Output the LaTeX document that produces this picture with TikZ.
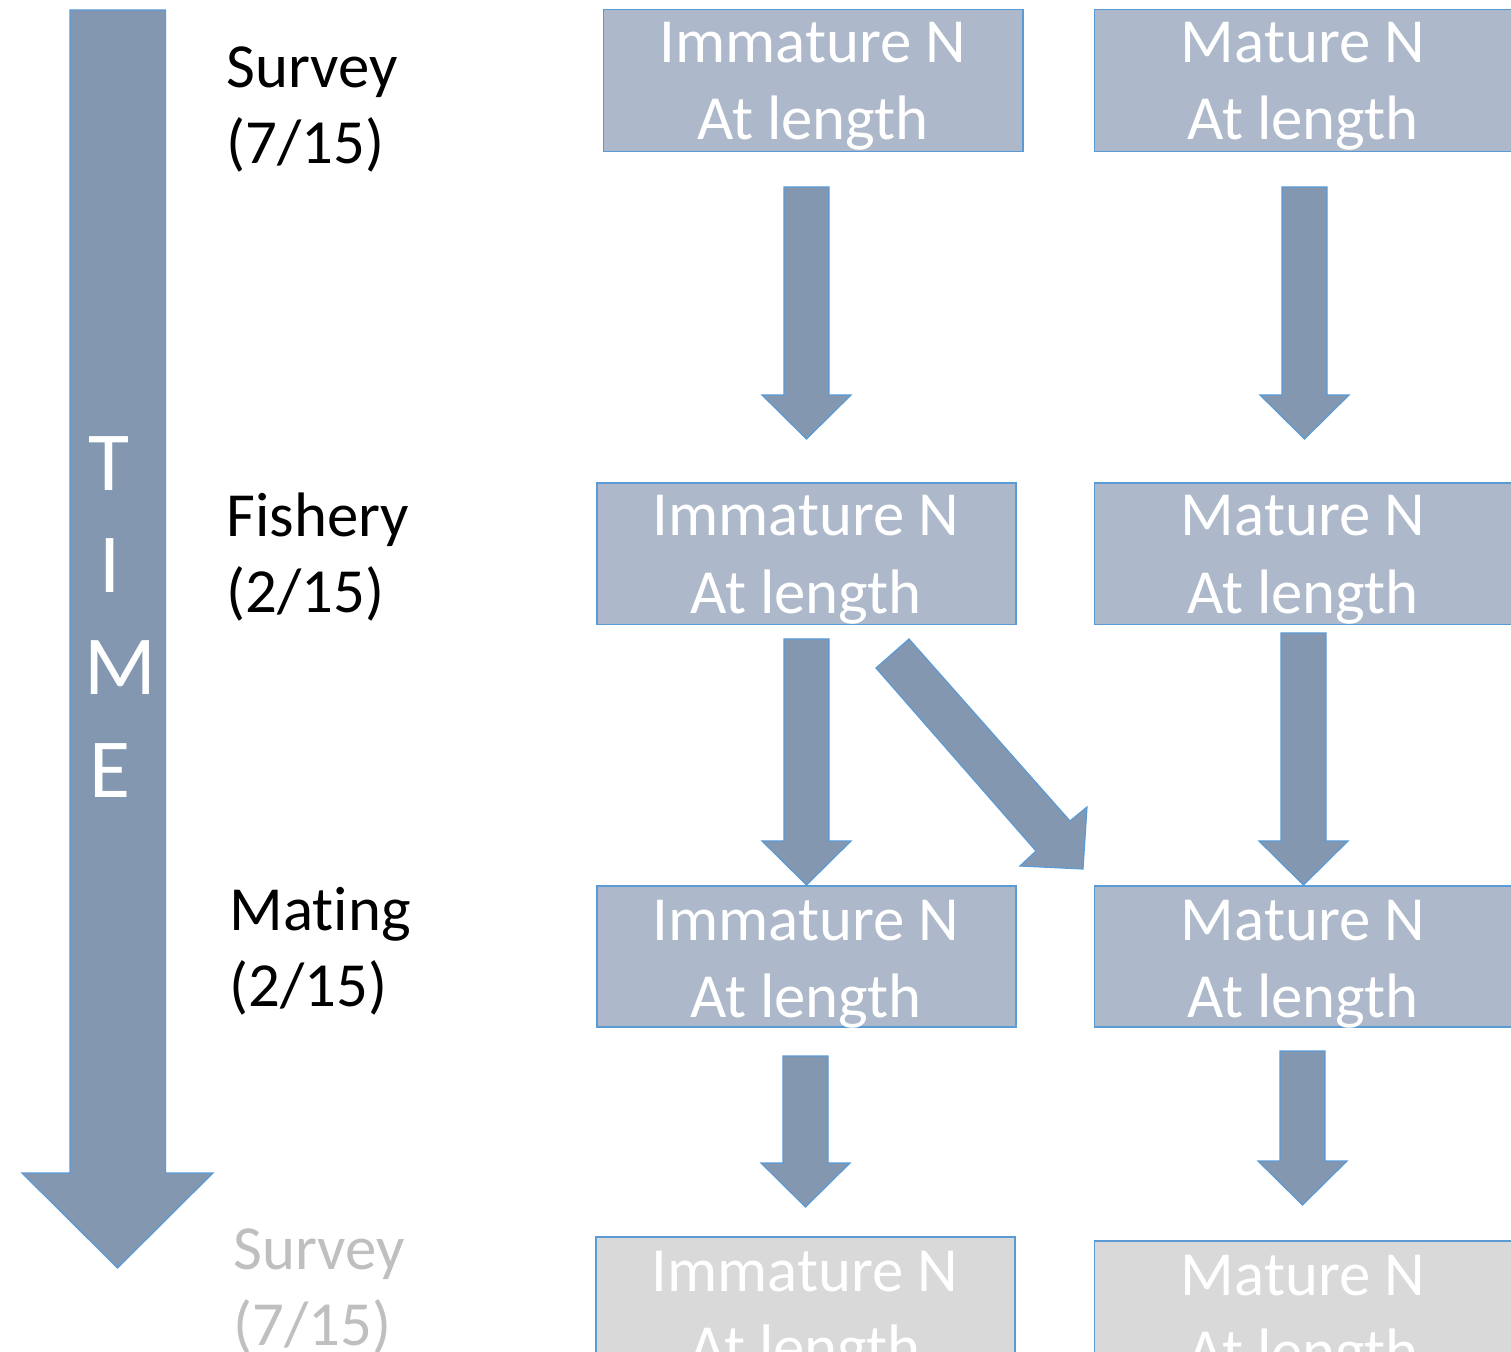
\documentclass[tikz,border=0pt]{standalone}
\usepackage{fontspec}
\setmainfont{Carlito}[Ligatures=NoCommon]
\definecolor{boxfill}{HTML}{ADB9CA}
\definecolor{boxline}{HTML}{5B9BD5}
\definecolor{arrfill}{HTML}{8497B0}
\definecolor{grayfill}{HTML}{D9D9D9}
\definecolor{graytext}{HTML}{BFBFBF}
\tikzset{
  popbox/.style={draw=boxline, fill=boxfill, line width=0.8pt},
  futbox/.style={draw=boxline, fill=grayfill, line width=0.8pt},
  blk/.style={draw=boxline, fill=arrfill, line width=0.6pt, line join=miter},
  wtxt/.style={text=white, inner sep=0pt, anchor=base, font=\fontsize{31.4}{37}\selectfont},
  lbl/.style={text=black, inner sep=0pt, anchor=base west, font=\fontsize{31.4}{37}\selectfont},
  glbl/.style={lbl, text=graytext},
  timel/.style={text=white, inner sep=0pt, anchor=base, font=\fontsize{42}{50}\selectfont},
}
% vertical block arrow: x-center, y-top, y-headbase, y-tip
\newcommand\vblk[4]{%
  \draw[blk] ({#1-22.5},#2) -- ({#1+22.5},#2) -- ({#1+22.5},#3) -- ({#1+44.5},#3)
    -- (#1,#4) -- ({#1-44.5},#3) -- ({#1-22.5},#3) -- cycle;}
\begin{document}
\begin{tikzpicture}[x=0.5pt,y=-0.5pt]
\useasboundingbox (0,0) rectangle (1511,1352);
\fill[white] (0,0) rectangle (1511,1352);

% big TIME arrow
\draw[blk] (70,10) -- (165.5,10) -- (165.5,1173) -- (213,1173) -- (117.5,1268)
  -- (22,1173) -- (70,1173) -- cycle;
\node[timel] (tT) at (109,491) {T};
\node[timel] (tI) at (110,593) {I};
\node[timel] (tM) at (120,695) {M};
\node[timel] (tE) at (110,798) {E};

% stage labels
\node[lbl] (s1a) at (226,88) {Survey};
\node[lbl] (s1b) at (226,164) {(7/15)};
\node[lbl] (f1a) at (226,537) {Fishery};
\node[lbl] (f1b) at (226,613) {(2/15)};
\node[lbl] (m1a) at (229,930) {Mating};
\node[lbl] (m1b) at (229,1006) {(2/15)};
\node[glbl] (s2a) at (233,1269) {Survey};
\node[glbl] (s2b) at (233,1345) {(7/15)};

% row 1
\draw[popbox] (603.5,9.5) rectangle (1023,151.5);
\node[wtxt] (i1a) at (813,63) {Immature N};
\node[wtxt] (i1b) at (813,140) {At length};
\draw[popbox] (1094.5,9.5) rectangle (1514,151.5);
\node[wtxt] (m1a) at (1303,63) {Mature N};
\node[wtxt] (m1b) at (1303,140) {At length};

% row 2
\draw[popbox] (597,483) rectangle (1016,624.5);
\node[wtxt] (i2a) at (806,536) {Immature N};
\node[wtxt] (i2b) at (806,614) {At length};
\draw[popbox] (1094.5,483) rectangle (1514,624.5);
\node[wtxt] (m2a) at (1303,536) {Mature N};
\node[wtxt] (m2b) at (1303,614) {At length};

% row 3
\draw[popbox] (597,886) rectangle (1016,1027);
\node[wtxt] (i3a) at (806,940) {Immature N};
\node[wtxt] (i3b) at (806,1017) {At length};
\draw[popbox] (1094.5,886) rectangle (1514,1027);
\node[wtxt] (m3a) at (1303,940) {Mature N};
\node[wtxt] (m3b) at (1303,1017) {At length};

% row 4 (next survey, greyed)
\draw[futbox] (596,1237) rectangle (1015,1400);
\node[wtxt] (i4a) at (805,1291) {Immature N};
\node[wtxt] (i4b) at (805,1368) {At length};
\draw[futbox] (1094.5,1241) rectangle (1514,1400);
\node[wtxt] (m4a) at (1303,1295) {Mature N};
\node[wtxt] (m4b) at (1303,1372) {At length};

% block arrows between stages
\vblk{806.5}{187}{395}{439}
\vblk{1304.5}{187}{395}{439}
\vblk{806.5}{639}{841}{885}
\vblk{1303.5}{633}{841}{885}
\vblk{805.5}{1056}{1163}{1207}
\vblk{1302.5}{1051}{1161}{1205}

% diagonal arrow: immature -> mature (maturation)
\draw[blk] (876,668) -- (909,639) -- (1070,821) -- (1087,807) -- (1083,869)
  -- (1020,866) -- (1036,851) -- cycle;
\end{tikzpicture}
\end{document}
